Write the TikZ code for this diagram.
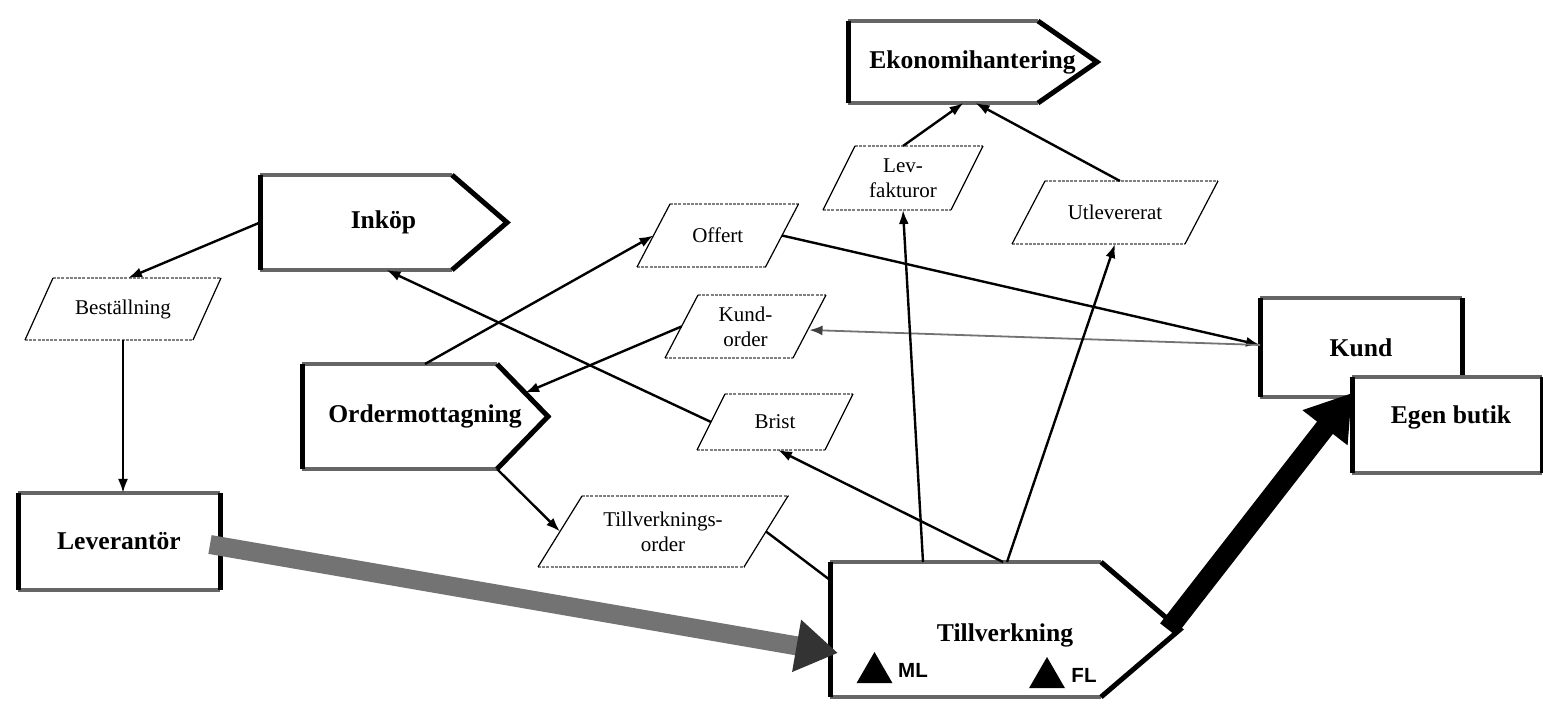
\documentclass[tikz,border=0pt]{standalone}
\usepackage{fontspec}
\setmainfont{Liberation Serif}
\newfontfamily\labelsans{Liberation Sans}
\usetikzlibrary{arrows.meta,calc,shapes.geometric}

\tikzset{
  holder/.style={draw=none, inner sep=0pt, outer sep=0pt},
  unittext/.style={font=\fontsize{25.6}{30}\selectfont\bfseries},
  datatext/.style={font=\fontsize{21}{25}\selectfont, align=center},
  tagtext/.style={font=\fontsize{20.5}{24}\labelsans\bfseries, inner sep=0pt},
  hardedge/.style={line width=5pt, black, line join=miter},
  softedge/.style={line width=3.5pt, black!60},
  dataedge/.style={line width=1.5pt, black!50, dash pattern=on 3pt off 1.2pt},
  dataside/.style={line width=1.2pt, black},
  link/.style={line width=2.4pt, black, -{Latex[length=14pt,width=10pt]}},
  plainlink/.style={line width=2.4pt, black},
  returnlink/.style={line width=1.8pt, black!55, -{Latex[length=13pt,width=10pt,color=black!75]}},
  supplyflow/.style={line width=19pt, black!55,
    -{Triangle[length=42pt,width=50pt,color=black!80]}},
  saleflow/.style={line width=20pt, black, -{Triangle[length=44pt,width=54pt]}},
  marker/.style={regular polygon, regular polygon sides=3, fill=black,
    draw=none, minimum size=41.6pt, inner sep=0pt}
}

% process block: rectangle with a pointed right end
\newcommand\procoutline[2]{%
  \draw[softedge] (#1.north west) -- ([xshift=-#2]#1.north east);
  \draw[softedge] (#1.south west) -- ([xshift=-#2]#1.south east);
  \draw[hardedge] (#1.north west) -- (#1.south west);
  \draw[hardedge] ([xshift=-#2]#1.north east) -- (#1.east) -- ([xshift=-#2]#1.south east);
}
% unit block: plain rectangle with heavy sides
\newcommand\unitoutline[1]{%
  \draw[softedge] (#1.north west) -- (#1.north east);
  \draw[softedge] (#1.south west) -- (#1.south east);
  \draw[hardedge] (#1.north west) -- (#1.south west);
  \draw[hardedge] (#1.north east) -- (#1.south east);
}
% data block: parallelogram leaning right
\newcommand\dataoutline[2]{%
  \draw[dataedge] ([xshift=#2]#1.north west) -- ([xshift=#2]#1.north east);
  \draw[dataedge] ([xshift=-#2]#1.south west) -- ([xshift=-#2]#1.south east);
  \draw[dataside] ([xshift=-#2]#1.south west) -- ([xshift=#2]#1.north west);
  \draw[dataside] ([xshift=-#2]#1.south east) -- ([xshift=#2]#1.north east);
}

\begin{document}
\begin{tikzpicture}[x=1pt,y=-1pt]
\useasboundingbox (0,0) rectangle (1543,708);
\fill[white] (0,0) rectangle (1543,708);

% process blocks
\node[holder, unittext, minimum width=249pt, minimum height=82pt] (eko) at (972.5,62) {Ekonomihantering};
\node[holder, unittext, minimum width=247pt, minimum height=95pt] (inkop) at (383.5,222.5) {Ink\"op};
\node[holder, unittext, minimum width=246pt, minimum height=105pt] (order) at (425,416.5) {Ordermottagning};
\node[holder, minimum width=350pt, minimum height=135pt] (till) at (1005,629.5) {};
\node[unittext] (tilltext) at (1005,635) {Tillverkning};
\procoutline{eko}{59pt}
\procoutline{inkop}{55pt}
\procoutline{order}{51pt}
\procoutline{till}{79pt}

% markers inside the production block
\node[marker] (mlmark) at (874.5,672.8) {};
\node[tagtext] (mltag) at (913,670) {ML};
\node[marker] (flmark) at (1047,677.8) {};
\node[tagtext] (fltag) at (1084,675) {FL};

% units
\node[holder, unittext, minimum width=202pt, minimum height=97pt] (lev) at (119,541.5) {Leverant\"or};
\unitoutline{lev}
\node[holder, unittext, minimum width=202pt, minimum height=99pt] (kund) at (1361,347.5) {Kund};
\unitoutline{kund}

% data blocks
\node[holder, datatext, minimum width=168pt, minimum height=62pt] (best) at (123,309) {Best\"allning};
\node[holder, datatext, minimum width=128.5pt, minimum height=63pt] (offert) at (717.75,235.5) {Offert};
\node[holder, datatext, minimum width=128pt, minimum height=63pt] (kundorder) at (745.5,326.5) {Kund-\\order};
\node[holder, datatext, minimum width=128pt, minimum height=56pt] (brist) at (775,422) {Brist};
\node[holder, datatext, minimum width=206pt, minimum height=71pt] (tvo) at (663,531.5) {Tillverknings-\\order};
\node[holder, datatext, minimum width=128pt, minimum height=64pt] (levf) at (903,178) {Lev-\\fakturor};
\node[holder, datatext, minimum width=173pt, minimum height=63pt] (utlev) at (1115,212.5) {Utlevererat};
\dataoutline{best}{14pt}
\dataoutline{offert}{16.5pt}
\dataoutline{kundorder}{16.5pt}
\dataoutline{brist}{14pt}
\dataoutline{tvo}{22pt}
\dataoutline{levf}{16pt}
\dataoutline{utlev}{16.5pt}

% information flows
\draw[link] (inkop.west) -- ([xshift=5pt]best.north);
\draw[link] (best.south) -- (best.south |- lev.north);
\draw[link] (order.north) -- (offert.west);
\draw[link] (offert.east) -- ([yshift=2.5pt]kund.west);
\draw[returnlink] ([yshift=2.5pt]kund.west) -- ([yshift=-3.5pt]kundorder.east);
\draw[link] (kundorder.west) -- ($([xshift=-51pt]order.north east)!0.55!(order.east)$);
\draw[link] (brist.west) -- ([xshift=3pt]inkop.south);
\draw[link] ([xshift=-2pt]till.north) -- ([xshift=3pt]brist.south);
\draw[link] ([xshift=-51pt]order.south east) -- (tvo.west);
\draw[plainlink] (tvo.east) -- ([yshift=-18pt]till.north west);
\draw[link] ([xshift=-82pt]till.north) -- (levf.south);
\draw[link] ([xshift=2pt]till.north) -- (utlev.south);
\draw[link] (levf.north) -- ([xshift=-9pt]eko.south);
\draw[link] ([xshift=5pt]utlev.north) -- ([xshift=3pt]eko.south);

% material flows
\draw[supplyflow] ([xshift=-10pt,yshift=-3pt]lev.east) -- ([xshift=8pt,yshift=-23.5pt]till.west);
\draw[saleflow] ([xshift=-12pt]till.east) -- (1352,393) coordinate (butikin);

% own shop, on top of the customer block
\node[holder, fill=white, minimum width=190pt, minimum height=96pt] (butik) at (1447,425) {};
\node[unittext] (butiktext) at (1451,417) {Egen butik};
\unitoutline{butik}
\end{tikzpicture}
\end{document}
